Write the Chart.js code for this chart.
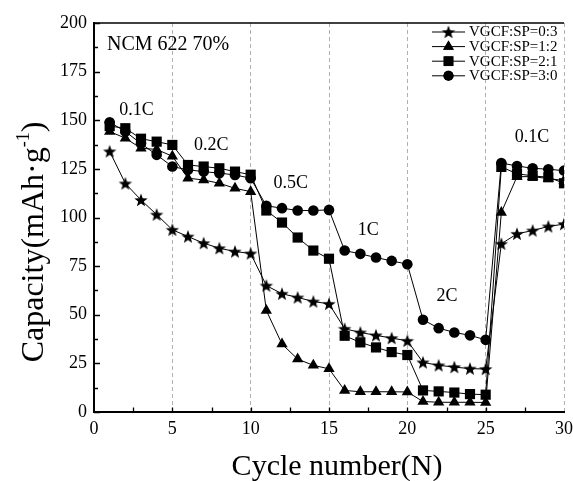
<!DOCTYPE html>
<html>
<head>
<meta charset="utf-8">
<script src="https://cdn.jsdelivr.net/npm/chart.js@4/dist/chart.umd.min.js"></script>
<style>
html,body{margin:0;padding:0;background:#fff;overflow:hidden;}
#wrap{width:573px;height:481px;}
</style>
</head>
<body>
<div id="wrap"><canvas id="c" width="573" height="481"></canvas></div>
<script>
// ---- data ----
const cycles = [1,2,3,4,5,6,7,8,9,10,11,12,13,14,15,16,17,18,19,20,21,22,23,24,25,26,27,28,29,30];
const seriesNames = ["VGCF:SP=0:3","VGCF:SP=1:2","VGCF:SP=2:1","VGCF:SP=3:0"];
const vgcf03 = [134,117.5,109,101.5,93.7,90.2,86.8,84.2,82.5,81.5,65,60.8,58.9,56.8,55.6,42.8,40.9,39.4,38,36.6,25.5,24,23.1,22.3,22.1,86.5,91.6,93.3,95.4,96.6];
const vgcf12 = [144.2,140.8,135.6,135,131.5,120.2,119.3,117.6,115,113.3,52.2,34.9,27.2,24,22.2,11.1,10.4,10.4,10.4,10.3,5.4,5,5,5,4.9,102.6,121,121,120,119];
const vgcf21 = [147,145.9,140.5,139,137.3,127,126.2,125.3,123.6,122,103.6,97.4,89.7,83,78.8,39.2,35.8,33.2,30.8,29.3,11.1,10.6,10,9.2,8.9,126,122.5,121.4,120.7,117.6];
const vgcf30 = [149,144.2,138,132.2,126.2,124.5,123.6,122.8,121.9,120.2,106,104.8,103.6,103.6,103.9,83,81.3,79.4,77.7,76,47.4,43.1,40.9,39.4,37.1,128,126.5,125.3,124.8,124.1];
const yTicks = [0,25,50,75,100,125,150,175,200];
const xTicks = [0,5,10,15,20,25,30];
const rateLabels = ["0.1C","0.2C","0.5C","1C","2C","0.1C"];
const rateLabelX = [2.72,7.49,12.56,17.5,22.53,27.95];
const rateLabelY = [155.3,137.3,117.6,93.6,59.4,141.5];
const sampleLabel = "NCM 622 70%";
const xTitle = "Cycle number(N)";
const yTitleMain = "Capacity(mAh\u00B7g";
const yTitleSup = "-1";
const yTitleTail = ")";

const SERIF = "'Liberation Serif','DejaVu Serif',serif";

// star marker image
function makeStar(R){
  const s = Math.ceil(R*2+2);
  const cv = document.createElement('canvas');
  cv.width = s; cv.height = s;
  const g = cv.getContext('2d');
  const cx = s/2, cy = s/2 + 0.6, r = R*0.42;
  g.beginPath();
  for(let i=0;i<10;i++){
    const a = -Math.PI/2 + i*Math.PI/5;
    const rr = i%2===0 ? R : r;
    const px = cx + rr*Math.cos(a), py = cy + rr*Math.sin(a);
    if(i===0) g.moveTo(px,py); else g.lineTo(px,py);
  }
  g.closePath();
  g.fillStyle = '#000';
  g.fill();
  return cv;
}
const starImg = makeStar(7);

const styles = [
  {pointStyle: starImg, radius: 7},
  {pointStyle: 'triangle', radius: 6.5},
  {pointStyle: 'rect', radius: 7.2},
  {pointStyle: 'circle', radius: 5.3}
];
const values = [vgcf03, vgcf12, vgcf21, vgcf30];

const datasets = values.map((arr,i)=>({
  label: seriesNames[i],
  data: cycles.map((c,k)=>({x:c, y:arr[k]})),
  borderColor: '#000',
  backgroundColor: '#000',
  borderWidth: 1,
  pointStyle: styles[i].pointStyle,
  pointRadius: styles[i].radius,
  pointHoverRadius: styles[i].radius,
  pointBackgroundColor: '#000',
  pointBorderColor: '#000',
  pointBorderWidth: 0,
  tension: 0,
  fill: false
}));

const decor = {
  id: 'decor',
  afterDraw(chart){
    const ctx = chart.ctx;
    const xs = chart.scales.x, ys = chart.scales.y;
    const ca = chart.chartArea;
    ctx.save();
    // top border
    ctx.strokeStyle = '#000';
    ctx.lineWidth = 1.5;
    ctx.beginPath();
    ctx.moveTo(ca.left, ca.top); ctx.lineTo(xs.getPixelForValue(30), ca.top);
    ctx.stroke();
    // inward ticks
    ctx.lineWidth = 1.3;
    ctx.beginPath();
    for(let v=0; v<=200; v+=12.5){
      const py = Math.round(ys.getPixelForValue(v))+0.5;
      const len = (v%25===0) ? 6 : 4;
      ctx.moveTo(ca.left, py); ctx.lineTo(ca.left+len, py);
    }
    for(let v=2.5; v<30; v+=2.5){
      const px = Math.round(xs.getPixelForValue(v))+0.5;
      ctx.moveTo(px, ca.bottom); ctx.lineTo(px, ca.bottom-4.5);
    }
    ctx.stroke();
    // annotations
    ctx.fillStyle = '#000';
    ctx.font = "20px " + SERIF;
    ctx.textAlign = 'left';
    ctx.textBaseline = 'middle';
    ctx.fillText(sampleLabel, xs.getPixelForValue(0.83), ys.getPixelForValue(189));
    ctx.font = "18px " + SERIF;
    ctx.textAlign = 'center';
    rateLabels.forEach((t,i)=>{
      ctx.fillText(t, xs.getPixelForValue(rateLabelX[i]), ys.getPixelForValue(rateLabelY[i]));
    });
    // legend
    const lx0 = 432, lx1 = 465, ly0 = 32, ldy = 14.6;
    ctx.font = "15px " + SERIF;
    ctx.textAlign = 'left';
    ctx.textBaseline = 'middle';
    seriesNames.forEach((n,i)=>{
      const y = ly0 + i*ldy;
      ctx.strokeStyle = '#000'; ctx.lineWidth = 1;
      ctx.beginPath(); ctx.moveTo(lx0,y); ctx.lineTo(lx1,y); ctx.stroke();
      const cx = (lx0+lx1)/2;
      if(i===0){
        ctx.drawImage(starImg, cx - starImg.width/2, y - starImg.height/2);
      } else {
        ctx.fillStyle = '#000'; ctx.strokeStyle = '#000';
        Chart.helpers.drawPoint(ctx, {pointStyle: styles[i].pointStyle, radius: styles[i].radius*0.95, rotation: 0, borderWidth: 0}, cx, y);
        ctx.fill();
      }
      ctx.fillStyle = '#000';
      ctx.fillText(n, 469, y+0.5);
    });
    // x title
    ctx.font = "30px " + SERIF;
    ctx.textAlign = 'center';
    ctx.textBaseline = 'alphabetic';
    ctx.fillText(xTitle, 337, 475);
    // y title
    ctx.translate(43, 242);
    ctx.rotate(-Math.PI/2);
    ctx.font = "32px " + SERIF;
    const w1 = ctx.measureText(yTitleMain).width;
    ctx.font = "18px " + SERIF;
    const w2 = ctx.measureText(yTitleSup).width;
    ctx.font = "32px " + SERIF;
    const w3 = ctx.measureText(yTitleTail).width;
    const tot = w1 + w2 + w3;
    let x = -tot/2;
    ctx.textAlign = 'left';
    ctx.fillText(yTitleMain, x, 0); x += w1;
    ctx.font = "18px " + SERIF;
    ctx.fillText(yTitleSup, x, -14); x += w2;
    ctx.font = "32px " + SERIF;
    ctx.fillText(yTitleTail, x, 0);
    ctx.restore();
  }
};

new Chart(document.getElementById('c'), {
  type: 'line',
  data: { datasets },
  options: {
    responsive: false,
    animation: false,
    devicePixelRatio: 1,
    layout: { padding: { left: 0, right: 9, top: 23, bottom: 0 } },
    plugins: { legend: { display: false }, tooltip: { enabled: false } },
    scales: {
      x: {
        type: 'linear', min: 0, max: 30,
        afterBuildTicks(s){ s.ticks = xTicks.map(v=>({value:v})); },
        afterFit(s){ s.height = 69; s.paddingLeft = 0; s.paddingRight = 0; },
        ticks: { color: '#000', font: { family: SERIF, size: 18 }, padding: 6, maxRotation: 0, autoSkip: false },
        grid: {
          drawTicks: false,
          color: (c)=> (c.tick && c.tick.value === 0) ? 'rgba(0,0,0,0)' : '#b0b0b0',
          lineWidth: 1
        },
        border: { display: true, color: '#000', width: 2, dash: [4,3] }
      },
      y: {
        type: 'linear', min: 0, max: 200,
        afterBuildTicks(s){ s.ticks = yTicks.map(v=>({value:v})); },
        afterFit(s){ s.width = 94; s.paddingTop = 0; s.paddingBottom = 0; },
        ticks: { color: '#000', font: { family: SERIF, size: 18 }, padding: 7 },
        grid: { display: false, drawTicks: false },
        border: { display: true, color: '#000', width: 2 }
      }
    }
  },
  plugins: [decor]
});
</script>
</body>
</html>
